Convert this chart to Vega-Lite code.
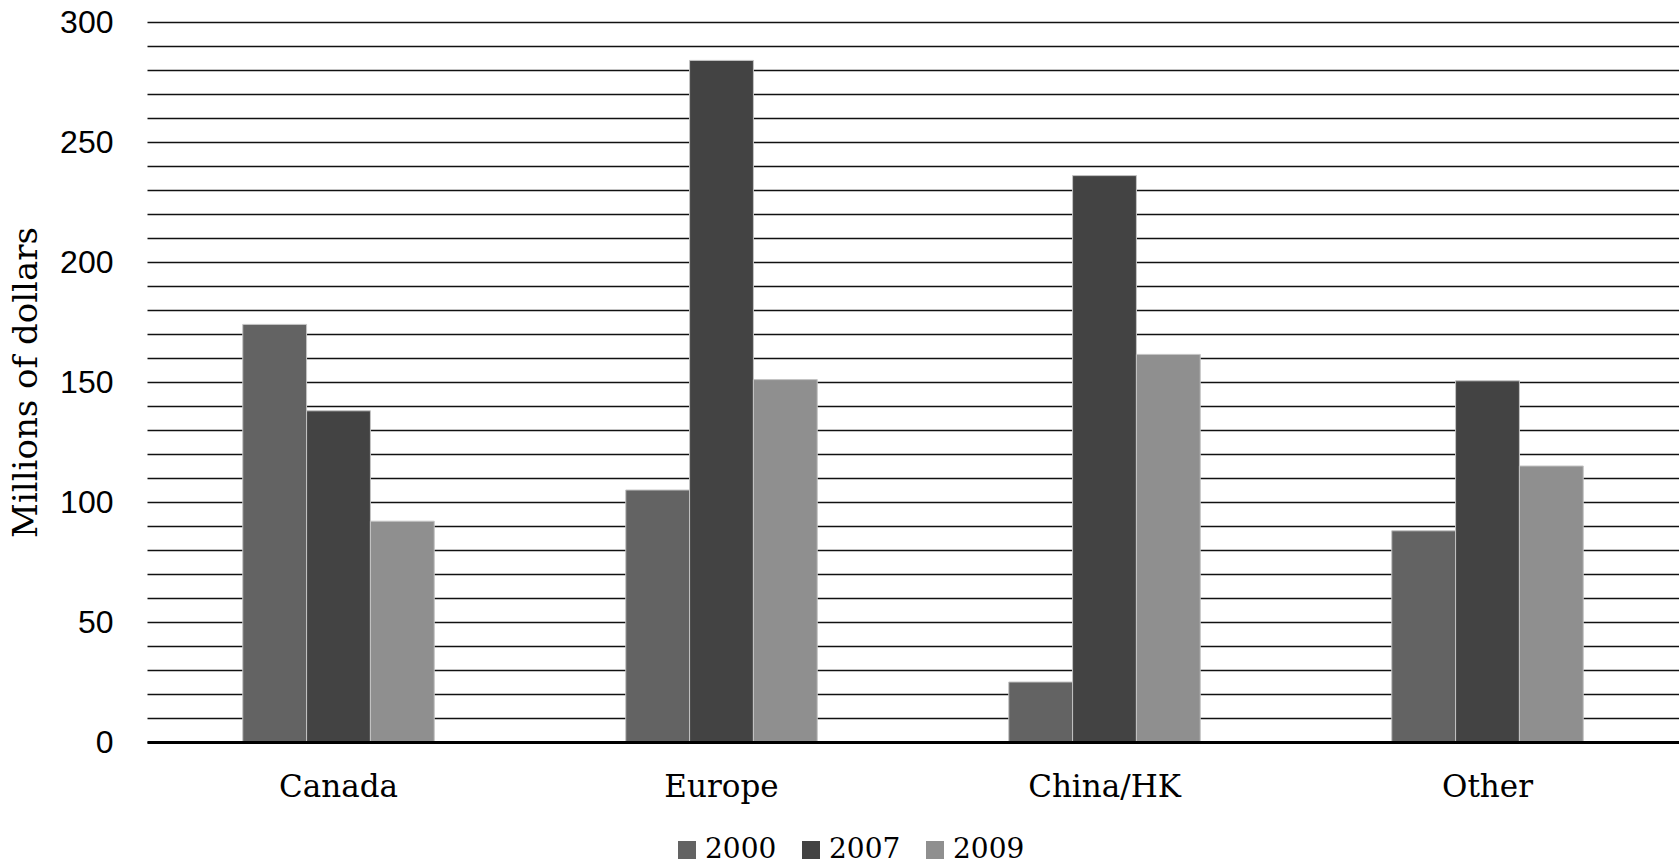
{
  "$schema": "https://vega.github.io/schema/vega-lite/v6.json",
  "autosize": "none",
  "width": 1532,
  "height": 720,
  "padding": {"left": 147, "top": 22, "right": 0, "bottom": 122},
  "background": "white",
  "config": {"view": {"stroke": null}},
  "data": {
    "values": [
      {"region": "Canada", "year": "2000", "value": 174},
      {"region": "Canada", "year": "2007", "value": 138},
      {"region": "Canada", "year": "2009", "value": 92},
      {"region": "Europe", "year": "2000", "value": 105},
      {"region": "Europe", "year": "2007", "value": 284},
      {"region": "Europe", "year": "2009", "value": 151},
      {"region": "China/HK", "year": "2000", "value": 25},
      {"region": "China/HK", "year": "2007", "value": 236},
      {"region": "China/HK", "year": "2009", "value": 161.5},
      {"region": "Other", "year": "2000", "value": 88},
      {"region": "Other", "year": "2007", "value": 150.5},
      {"region": "Other", "year": "2009", "value": 115}
    ]
  },
  "mark": {"type": "bar", "stroke": "#c4c4c4", "strokeWidth": 1},
  "encoding": {
    "x": {
      "field": "region",
      "type": "nominal",
      "sort": ["Canada", "Europe", "China/HK", "Other"],
      "scale": {"paddingInner": 0.5, "paddingOuter": 0.25},
      "axis": {
        "title": null,
        "labelAngle": 0,
        "ticks": false,
        "domain": true,
        "domainColor": "#000000",
        "domainWidth": 3,
        "zindex": 1,
        "labelFont": "DejaVu Serif",
        "labelFontSize": 31,
        "labelColor": "#000000",
        "labelPadding": 30
      }
    },
    "xOffset": {"field": "year", "type": "nominal", "scale": {"paddingInner": 0, "paddingOuter": 0}},
    "y": {
      "field": "value",
      "type": "quantitative",
      "scale": {"domain": [0, 300], "nice": false},
      "axis": {
        "title": "Millions of dollars",
        "titleFont": "DejaVu Serif",
        "titleFontSize": 34,
        "titleFontWeight": "normal",
        "titleColor": "#000000",
        "titleX": -104,
        "values": [0, 10, 20, 30, 40, 50, 60, 70, 80, 90, 100, 110, 120, 130, 140, 150, 160, 170, 180, 190, 200, 210, 220, 230, 240, 250, 260, 270, 280, 290, 300],
        "labelExpr": "datum.value % 50 === 0 ? datum.label : ''",
        "ticks": false,
        "domain": false,
        "grid": true,
        "gridColor": "#111111",
        "gridWidth": 1.4,
        "gridOpacity": 1,
        "labelFont": "Liberation Sans",
        "labelFontSize": 32,
        "labelColor": "#000000",
        "labelPadding": 34
      }
    },
    "color": {
      "field": "year",
      "type": "nominal",
      "scale": {"domain": ["2000", "2007", "2009"], "range": ["#636363", "#434343", "#8f8f8f"]},
      "legend": {
        "title": null,
        "orient": "none",
        "direction": "horizontal",
        "legendX": 526,
        "legendY": 814,
        "symbolType": "square",
        "symbolSize": 324,
        "symbolStrokeWidth": 0,
        "labelFont": "DejaVu Serif",
        "labelFontSize": 28,
        "labelColor": "#000000",
        "labelOffset": 4,
        "columnPadding": 20
      }
    }
  }
}
